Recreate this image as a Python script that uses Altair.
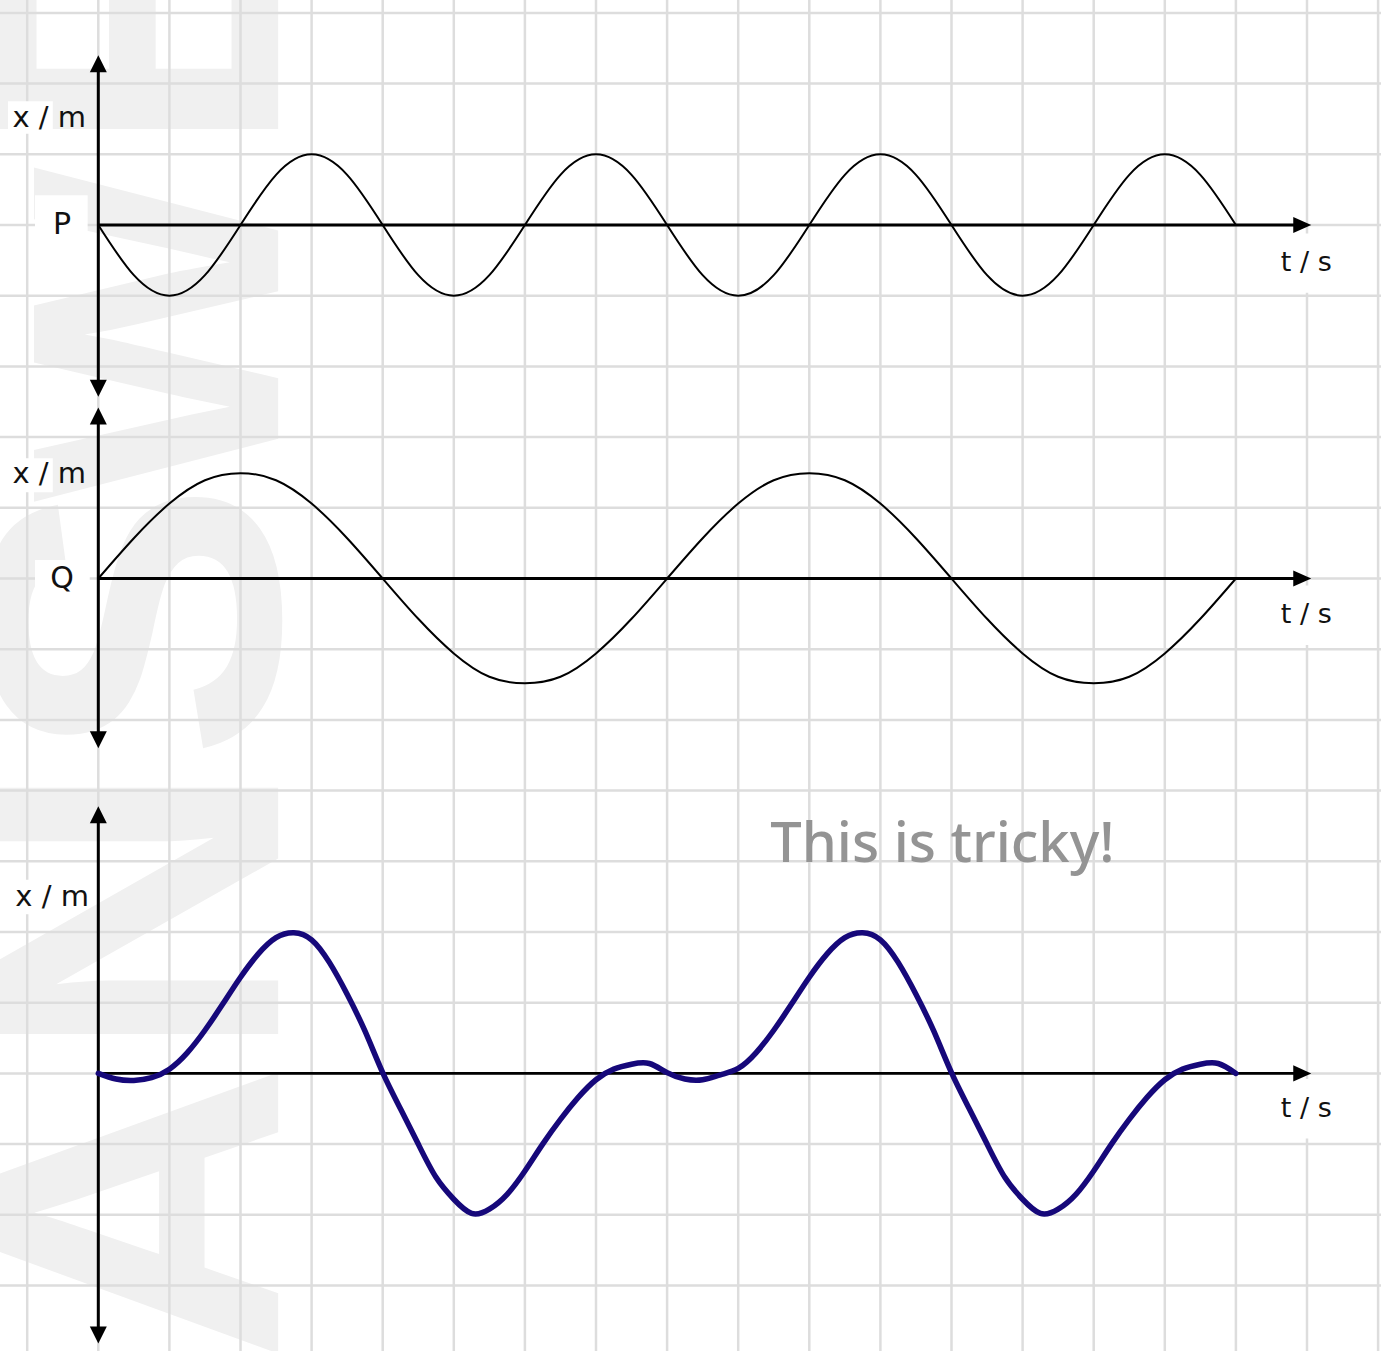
import altair as alt
import pandas as pd

# ---------------------------------------------------------------------------
# Geometry of the squared paper (one grid cell = one unit on both axes)
# ---------------------------------------------------------------------------
W, H = 1381, 1351
CELL_X, CELL_Y = 71.1, 70.7          # pixels per grid cell
ORIGIN_X, ORIGIN_Y = 98.3, 225.0     # pixel position of t = 0 and of the P baseline

X_DOMAIN = [-ORIGIN_X / CELL_X, (W - ORIGIN_X) / CELL_X]
Y_DOMAIN = [-(H - ORIGIN_Y) / CELL_Y, ORIGIN_Y / CELL_Y]

xs = alt.Scale(domain=X_DOMAIN, nice=False, zero=False)
ys = alt.Scale(domain=Y_DOMAIN, nice=False, zero=False)

# baselines of the three panels (in grid cells)
BASE = {"P": 0.0, "Q": -5.0, "sum": -12.0}

# ---------------------------------------------------------------------------
# Displacement traces, in grid cells
# ---------------------------------------------------------------------------
t_half = [k * 0.5 for k in range(33)]      # 0 ... 16, every half cell
t_quarter = [k * 0.25 for k in range(65)]  # 0 ... 16, every quarter cell

p_values = [0.0, -0.71, -1.0, -0.71, 0.0, 0.71, 1.0, 0.71,
            0.0, -0.71, -1.0, -0.71, 0.0, 0.71, 1.0, 0.71,
            0.0, -0.71, -1.0, -0.71, 0.0, 0.71, 1.0, 0.71,
            0.0, -0.71, -1.0, -0.71, 0.0, 0.71, 1.0, 0.71,
            0.0]

q_values = [0.0, 0.57, 1.06, 1.39, 1.49, 1.39, 1.06, 0.57,
            0.0, -0.57, -1.06, -1.39, -1.48, -1.39, -1.06, -0.57,
            0.0, 0.57, 1.06, 1.39, 1.49, 1.39, 1.06, 0.57,
            0.0, -0.57, -1.06, -1.39, -1.48, -1.39, -1.06, -0.57,
            0.0]

sum_values = [0.0, -0.08, -0.10, -0.06, 0.06, 0.29, 0.61, 0.98,
              1.36, 1.69, 1.92, 1.99, 1.89, 1.57, 1.12, 0.60,
              0.01, -0.50, -1.00, -1.47, -1.78, -1.98, -1.92, -1.71,
              -1.38, -1.00, -0.65, -0.34, -0.09, 0.06, 0.13, 0.14,
              0.01, -0.08, -0.09, -0.02, 0.07, 0.29, 0.61, 0.98,
              1.36, 1.69, 1.92, 1.99, 1.89, 1.57, 1.12, 0.60,
              0.01, -0.50, -1.00, -1.47, -1.78, -1.98, -1.92, -1.71,
              -1.38, -1.00, -0.65, -0.34, -0.09, 0.06, 0.13, 0.14,
              0.0]

curves = pd.concat([
    pd.DataFrame({"t": t_half, "v": p_values, "wave": "P"}),
    pd.DataFrame({"t": t_half, "v": q_values, "wave": "Q"}),
    pd.DataFrame({"t": t_quarter, "v": sum_values, "wave": "sum"}),
], ignore_index=True)
curves["y"] = curves["v"] + curves["wave"].map(BASE)

# ---------------------------------------------------------------------------
# Axes with arrow heads
# ---------------------------------------------------------------------------
axis_up = {"P": 2.40, "Q": 2.42, "sum": 3.78}     # arrow tip above baseline
axis_down = {"P": 2.43, "Q": 2.40, "sum": 3.82}   # arrow tip below baseline
t_tip = 17.06                                      # tip of the time-axis arrow
inset_v, inset_h = 0.12, 0.12                      # keep the shaft under the head

vert = pd.DataFrame([
    {"t": 0.0, "y": BASE[k] - axis_down[k] + inset_v, "y2": BASE[k] + axis_up[k] - inset_v}
    for k in BASE
])
horiz = pd.DataFrame([
    {"t": 0.0, "t2": t_tip - inset_h, "y": BASE[k], "w": 3.0 if k != "sum" else 2.6}
    for k in BASE
])
tips_up = pd.DataFrame([{"t": 0.0, "y": BASE[k] + axis_up[k]} for k in BASE])
tips_down = pd.DataFrame([{"t": 0.0, "y": BASE[k] - axis_down[k]} for k in BASE])
tips_right = pd.DataFrame([{"t": t_tip, "y": BASE[k]} for k in BASE])

# ---------------------------------------------------------------------------
# Labels and their white backing boxes
# ---------------------------------------------------------------------------
labels = pd.DataFrame([
    {"text": "x / m", "t": -0.69, "y": 1.51, "size": 29},
    {"text": "x / m", "t": -0.69, "y": -3.52, "size": 29},
    {"text": "x / m", "t": -0.65, "y": -9.50, "size": 29},
    {"text": "P", "t": -0.51, "y": 0.0, "size": 30},
    {"text": "Q", "t": -0.51, "y": -5.0, "size": 30},
    {"text": "t / s", "t": 16.99, "y": -0.54, "size": 27},
    {"text": "t / s", "t": 16.99, "y": -5.52, "size": 27},
    {"text": "t / s", "t": 16.99, "y": -12.50, "size": 27},
])

boxes = pd.DataFrame([
    {"t": -1.27, "t2": -0.64, "y": 1.75, "y2": 1.29},
    {"t": -1.39, "t2": -0.64, "y": -3.30, "y2": -3.78},
    {"t": -1.27, "t2": -0.64, "y": -9.26, "y2": -9.75},
    {"t": -0.89, "t2": -0.15, "y": 0.42, "y2": -0.21},
    {"t": -0.89, "t2": -0.12, "y": -4.74, "y2": -5.28},
    {"t": 16.30, "t2": 17.70, "y": -0.12, "y2": -0.96},
    {"t": 16.30, "t2": 17.70, "y": -5.10, "y2": -5.94},
    {"t": 16.30, "t2": 17.70, "y": -12.08, "y2": -12.92},
])

note = pd.DataFrame([{"text": "This is tricky!", "t": 9.45, "y": -9.01}])

# faint "ANSWERS" stamp running up the left edge, one piece at a time
stamp = pd.DataFrame([
    {"text": "A", "t": 2.53, "y": -16.11, "size": 419},
    {"text": "N", "t": 2.53, "y": -11.84, "size": 419},
    {"text": "S", "t": 2.53, "y": -7.57, "size": 419},
    {"text": "W", "t": 2.53, "y": -3.92, "size": 355},
    {"text": "ERS", "t": 2.53, "y": 0.96, "size": 419},
])

grid_x = pd.DataFrame({"t": list(range(-1, 19))})
grid_y = pd.DataFrame({"y": list(range(-15, 4))})

X = lambda f="t": alt.X(f"{f}:Q", scale=xs, axis=None)
Y = lambda f="y": alt.Y(f"{f}:Q", scale=ys, axis=None)

# ---------------------------------------------------------------------------
# Layers
# ---------------------------------------------------------------------------
watermark = alt.Chart(stamp).mark_text(
    font="Liberation Sans", fontWeight="bold", angle=270,
    align="left", baseline="alphabetic", color="#f0f0f0",
).encode(x=X(), y=Y(), text="text:N",
         size=alt.Size("size:Q", scale=None, legend=None))

vgrid = alt.Chart(grid_x).mark_rule(color="#dddddd", strokeWidth=2.5).encode(x=X())
hgrid = alt.Chart(grid_y).mark_rule(color="#dddddd", strokeWidth=2.5).encode(y=Y())

label_boxes = alt.Chart(boxes).mark_rect(color="white").encode(
    x=X(), x2="t2:Q", y=Y(), y2="y2:Q"
)

v_axes = alt.Chart(vert).mark_rule(color="black", strokeWidth=3).encode(
    x=X(), y=Y(), y2="y2:Q"
)
h_axes = alt.Chart(horiz).mark_rule(color="black").encode(
    x=X(), x2="t2:Q", y=Y(), strokeWidth=alt.StrokeWidth("w:Q", scale=None, legend=None)
)

head_up = alt.Chart(tips_up).mark_point(
    shape="M0,0L0.5,1L-0.5,1Z", size=1156, filled=True, color="black", opacity=1
).encode(x=X(), y=Y())
head_down = alt.Chart(tips_down).mark_point(
    shape="M0,0L0.5,-1L-0.5,-1Z", size=1156, filled=True, color="black", opacity=1
).encode(x=X(), y=Y())
head_right = alt.Chart(tips_right).mark_point(
    shape="M0,0L-1,-0.45L-1,0.45Z", size=1296, filled=True, color="black", opacity=1
).encode(x=X(), y=Y())

thin_waves = alt.Chart(curves).transform_filter(
    alt.datum.wave != "sum"
).mark_line(color="black", strokeWidth=2, interpolate="natural").encode(
    x=X(), y=Y(), detail="wave:N"
)
sum_wave = alt.Chart(curves).transform_filter(
    alt.datum.wave == "sum"
).mark_line(color="#16087a", strokeWidth=5.5, interpolate="natural",
            strokeCap="round", strokeJoin="round").encode(x=X(), y=Y())

label_text = alt.Chart(labels).mark_text(
    font="DejaVu Sans", align="center", baseline="middle", color="#111111"
).encode(x=X(), y=Y(), text="text:N",
         size=alt.Size("size:Q", scale=None, legend=None))

note_text = alt.Chart(note).mark_text(
    font="Noto Sans", fontSize=56, fontWeight=500,
    align="left", baseline="alphabetic", color="#949494",
).encode(x=X(), y=Y(), text="text:N")

chart = alt.layer(
    watermark, vgrid, hgrid, label_boxes, v_axes, h_axes,
    head_up, head_down, head_right, thin_waves, sum_wave, label_text, note_text,
).properties(
    width=W, height=H, padding=0, autosize=alt.AutoSizeParams(type="none"),
    background="white",
).configure_view(stroke=None)

chart.save("out.html", embed_options={"renderer": "svg", "actions": False})
